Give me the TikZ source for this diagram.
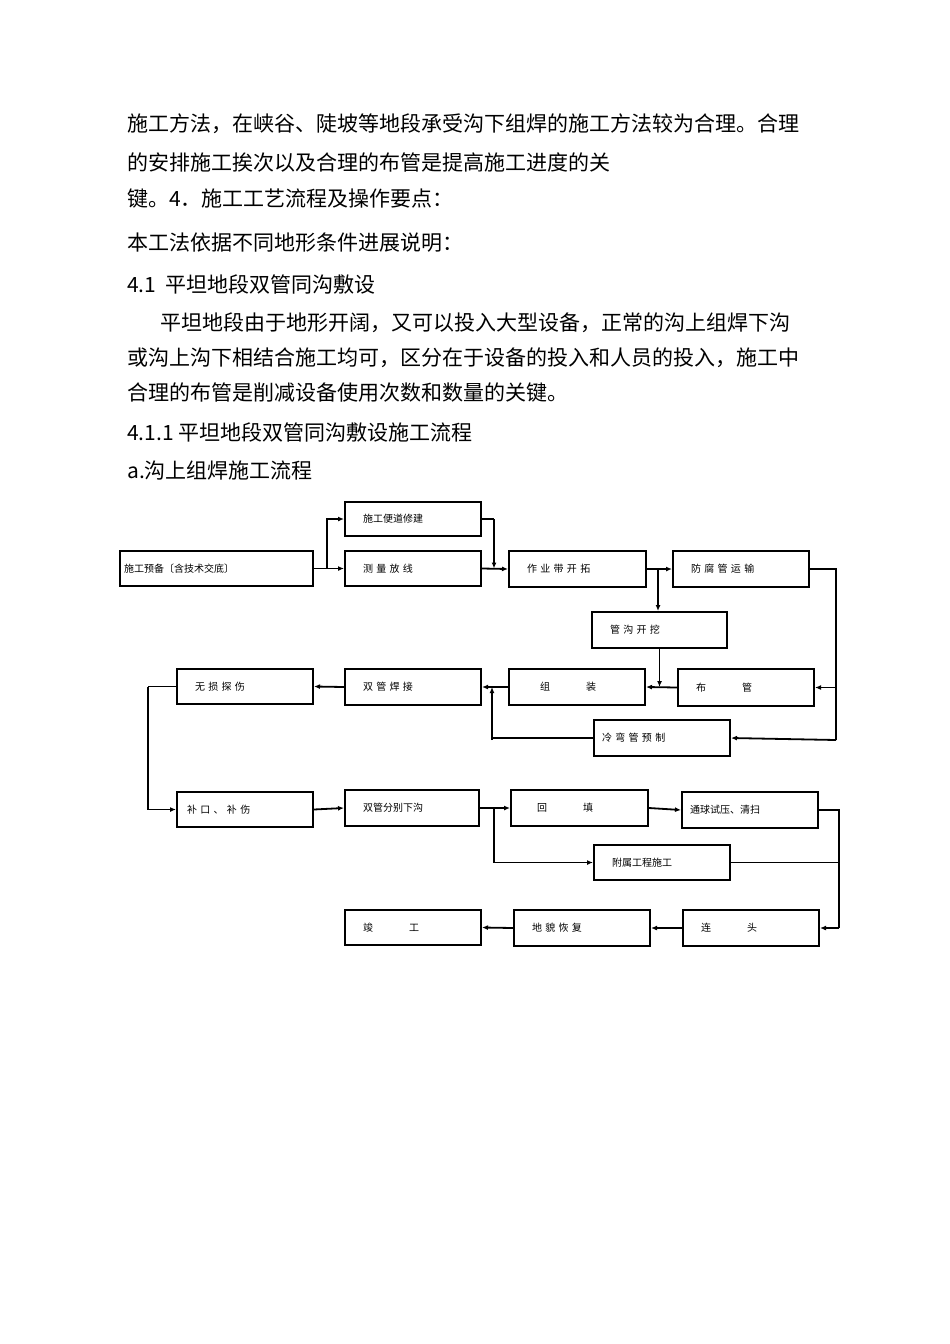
\documentclass[tikz,border=0pt]{standalone}
\usepackage{fontspec}
\setmainfont{Noto Sans CJK SC}
\usetikzlibrary{arrows.meta}
\begin{document}
\begin{tikzpicture}[x=1pt,y=-1pt,
 bx/.style={draw,line width=2pt,inner sep=0pt,font=\fontsize{10}{12}\selectfont,align=left},
 ar/.style={line width=1.8pt,-{Latex[length=6pt,width=5pt]}},
 ln/.style={line width=1.8pt},
 para/.style={anchor=west,inner sep=0pt,font=\fontsize{21}{24}\selectfont}]
\useasboundingbox (0,0) rectangle (950,1344);
\node[para] (l1) at (127,124) {施工方法，在峡谷、陡坡等地段承受沟下组焊的施工方法较为合理。合理};
\node[para] (l2) at (127,163) {的安排施工挨次以及合理的布管是提高施工进度的关};
\node[para] (l3) at (127,199) {键。4．施工工艺流程及操作要点：};
\node[para] (l4) at (127,243) {本工法依据不同地形条件进展说明：};
\node[para] (l5) at (127,285) {4.1\ \ 平坦地段双管同沟敷设};
\node[para] (l6) at (160,323) {平坦地段由于地形开阔，又可以投入大型设备，正常的沟上组焊下沟};
\node[para] (l7) at (127,358) {或沟上沟下相结合施工均可，区分在于设备的投入和人员的投入，施工中};
\node[para] (l8) at (127,393) {合理的布管是削减设备使用次数和数量的关键。};
\node[para] (l9) at (127,433) {4.1.1 平坦地段双管同沟敷设施工流程};
\node[para] (l10) at (127,471) {a.沟上组焊施工流程};
\newcommand{\bxn}[6]{\node[bx,minimum width=#4pt,minimum height=#5pt,text width=#4pt-36pt] (#1) at (#2,#3) {#6};}
\node[bx,minimum width=193pt,minimum height=35pt,text width=185pt] (prep) at (216.5,568.5) {施工预备〔含技术交底〕};
\bxn{road}{413}{519}{136}{34}{施工便道修建}
\bxn{survey}{413}{568.5}{136}{35}{测\ 量\ 放\ 线}
\bxn{strip}{577.5}{569}{137}{36}{作\ 业\ 带\ 开\ 拓}
\bxn{anti}{741}{569}{136}{36}{防\ 腐\ 管\ 运\ 输}
\bxn{trench}{659.5}{630}{135}{36}{管\ 沟\ 开\ 挖}
\bxn{ndt}{245}{686.5}{136}{35}{无\ 损\ 探\ 伤}
\bxn{weld}{413}{687}{136}{36}{双\ 管\ 焊\ 接}
\bxn{assemble}{577}{687}{136}{36}{\hspace{13pt}组\hspace{36pt}装}
\bxn{lay}{746}{687.5}{136}{37}{布\hspace{36pt}管}
\bxn{cold}{662}{738}{136}{36}{\hspace{-10pt}冷\ 弯\ 管\ 预\ 制}
\bxn{patch}{245}{809.5}{136}{35}{\hspace{-8pt}补\ 口\ 、\ 补\ 伤}
\bxn{lower}{412}{808}{134}{36}{双管分别下沟}
\bxn{backfill}{579.5}{808}{137}{36}{\hspace{8pt}回\hspace{36pt}填}
\bxn{test}{750}{810}{136}{36}{\hspace{-10pt}通球试压、清扫}
\bxn{aux}{662}{862.5}{136}{35}{附属工程施工}
\bxn{done}{413}{927.5}{136}{35}{竣\hspace{36pt}工}
\bxn{restore}{582}{928}{136}{36}{地\ 貌\ 恢\ 复}
\bxn{tie}{751}{928}{136}{36}{连\hspace{36pt}头}
\coordinate (j1) at (327,568.5);
\coordinate (j2) at (494,519);
\coordinate (j3) at (658,569);
\coordinate (j4) at (836,569);
\coordinate (j5) at (492,740);
\coordinate (j6) at (148,686.5);
\coordinate (j7) at (494,808);
\coordinate (j8) at (839,810);
\draw[ar] (prep.east) -- (survey.west);
\draw[ar] (j1) |- (road.west);
\draw[ln] (road.east) -- (j2);
\draw[ar] (j2) -- (494,568.5);
\draw[ar] (survey.east) -- (strip.west);
\draw[ar] (strip.east) -- (anti.west);
\draw[ar] (j3) -- (j3 |- trench.north);
\draw[ar] (trench.south) -- (659.5,687);
\draw[ar] (lay.west) -- (assemble.east);
\draw[ln] (anti.east) -- (j4) -- (836,740);
\draw[ar] (836,687.5) -- (lay.east);
\draw[ar] (836,740) -- (cold.east);
\draw[ln] (cold.west) -| (j5);
\draw[ar] (j5) -- (492,687);
\draw[ar] (assemble.west) -- (weld.east);
\draw[ar] (weld.west) -- (ndt.east);
\draw[ln] (ndt.west) -- (j6);
\draw[ar] (j6) |- (patch.west);
\draw[ar] (patch.east) -- (lower.west);
\draw[ar] (lower.east) -- (backfill.west);
\draw[ar] (j7) |- (aux.west);
\draw[ar] (backfill.east) -- (test.west);
\draw[ln] (test.east) -- (j8) -- (839,928);
\draw[ln] (aux.east) -- (839,862.5);
\draw[ar] (839,928) -- (tie.east);
\draw[ar] (tie.west) -- (restore.east);
\draw[ar] (restore.west) -- (done.east);
\end{tikzpicture}
\end{document}
